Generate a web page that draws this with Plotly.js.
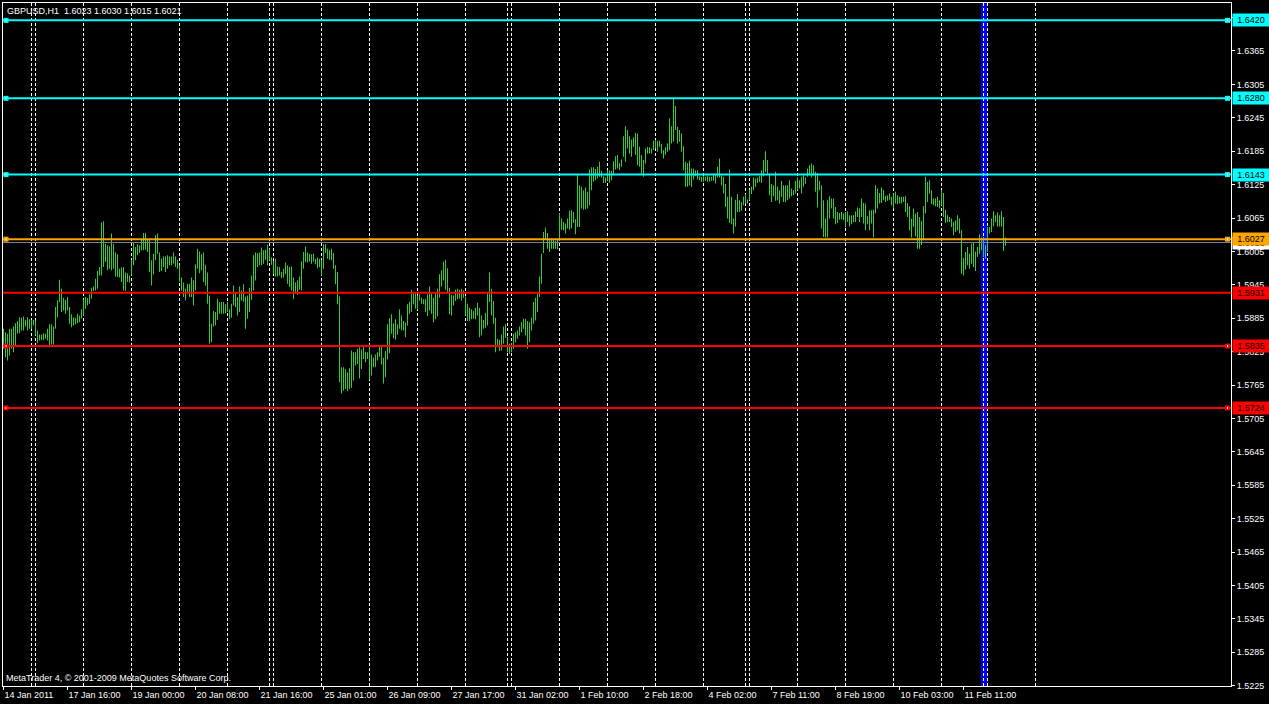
<!DOCTYPE html>
<html><head><meta charset="utf-8">
<script src="https://cdn.plot.ly/plotly-3.0.1.min.js"></script>
<style>html,body{margin:0;padding:0;background:#000;overflow:hidden}#chart{width:1269px;height:704px}</style>
</head><body><div id="chart"></div>
<script>
const symbolTitle = 'GBPUSD,H1\u00a0\u00a01.6023 1.6030 1.6015 1.6021';
const copyright = 'MetaTrader 4, \u00a9 2001-2009 MetaQuotes Software Corp.';

const barHigh = [
1.5866,1.5860,1.5857,1.5866,1.5866,1.5870,1.5876,1.5880,1.5887,1.5886,
1.5888,1.5882,1.5887,1.5883,1.5882,1.5882,1.5881,1.5863,1.5856,1.5856,
1.5858,1.5857,1.5866,1.5874,1.5874,1.5870,1.5905,1.5917,1.5954,1.5938,
1.5922,1.5918,1.5923,1.5905,1.5892,1.5887,1.5886,1.5893,1.5890,1.5901,
1.5919,1.5923,1.5921,1.5928,1.5940,1.5942,1.5956,1.5970,1.5977,1.6057,
1.6059,1.6019,1.6016,1.6014,1.6037,1.6018,1.6003,1.6000,1.5974,1.5976,
1.5977,1.5967,1.5966,1.5962,1.5989,1.6020,1.6013,1.6018,1.6016,1.6026,
1.6038,1.6038,1.6026,1.6027,1.5989,1.6001,1.6034,1.6037,1.6003,1.5992,
1.5996,1.5996,1.5998,1.5996,1.5996,1.6003,1.5996,1.5990,1.5980,1.5958,
1.5949,1.5938,1.5947,1.5947,1.5958,1.5953,1.5982,1.6010,1.6005,1.6000,
1.6003,1.5981,1.5967,1.5926,1.5875,1.5898,1.5896,1.5920,1.5914,1.5914,
1.5914,1.5910,1.5914,1.5901,1.5911,1.5944,1.5932,1.5923,1.5942,1.5935,
1.5946,1.5924,1.5926,1.5940,1.5962,1.5998,1.6003,1.6002,1.6003,1.6012,
1.6007,1.6008,1.6017,1.6010,1.5994,1.5988,1.5992,1.5978,1.5977,1.5968,
1.5974,1.5985,1.5980,1.5977,1.5978,1.5958,1.5949,1.5953,1.5960,1.5987,
1.6004,1.6014,1.6003,1.6001,1.6000,1.6001,1.5992,1.5994,1.5992,1.5989,
1.6018,1.6018,1.6010,1.6007,1.6010,1.6002,1.5980,1.5968,1.5924,1.5797,
1.5797,1.5794,1.5788,1.5795,1.5827,1.5824,1.5824,1.5830,1.5833,1.5829,
1.5835,1.5825,1.5824,1.5838,1.5820,1.5814,1.5820,1.5824,1.5836,1.5835,
1.5814,1.5826,1.5874,1.5885,1.5892,1.5876,1.5883,1.5874,1.5901,1.5890,
1.5880,1.5877,1.5910,1.5914,1.5936,1.5930,1.5932,1.5926,1.5928,1.5922,
1.5919,1.5919,1.5928,1.5942,1.5929,1.5922,1.5930,1.5938,1.5964,1.5971,
1.5987,1.5990,1.5975,1.5940,1.5927,1.5926,1.5936,1.5938,1.5936,1.5938,
1.5935,1.5924,1.5911,1.5904,1.5901,1.5898,1.5904,1.5913,1.5904,1.5890,
1.5882,1.5895,1.5930,1.5967,1.5938,1.5916,1.5886,1.5848,1.5846,1.5856,
1.5870,1.5874,1.5852,1.5839,1.5840,1.5857,1.5860,1.5863,1.5870,1.5878,
1.5884,1.5884,1.5880,1.5878,1.5886,1.5914,1.5922,1.5930,1.5960,1.6001,
1.6040,1.6048,1.6038,1.6026,1.6028,1.6026,1.6024,1.6028,1.6074,1.6064,
1.6058,1.6055,1.6064,1.6078,1.6079,1.6076,1.6063,1.6143,1.6124,1.6121,
1.6115,1.6120,1.6112,1.6152,1.6156,1.6156,1.6153,1.6157,1.6166,1.6150,
1.6140,1.6138,1.6151,1.6151,1.6150,1.6167,1.6176,1.6178,1.6164,1.6170,
1.6212,1.6230,1.6223,1.6212,1.6206,1.6210,1.6218,1.6217,1.6193,1.6178,
1.6169,1.6190,1.6193,1.6192,1.6190,1.6204,1.6205,1.6204,1.6204,1.6198,
1.6187,1.6192,1.6199,1.6244,1.6230,1.6280,1.6266,1.6229,1.6223,1.6217,
1.6194,1.6166,1.6164,1.6168,1.6154,1.6154,1.6151,1.6151,1.6140,1.6139,
1.6140,1.6139,1.6142,1.6139,1.6139,1.6145,1.6142,1.6157,1.6172,1.6142,
1.6139,1.6126,1.6103,1.6152,1.6103,1.6064,1.6098,1.6108,1.6097,1.6094,
1.6103,1.6108,1.6098,1.6116,1.6121,1.6138,1.6136,1.6138,1.6140,1.6151,
1.6169,1.6185,1.6169,1.6145,1.6126,1.6124,1.6148,1.6121,1.6115,1.6132,
1.6124,1.6124,1.6124,1.6133,1.6118,1.6115,1.6132,1.6138,1.6133,1.6139,
1.6142,1.6138,1.6154,1.6160,1.6163,1.6160,1.6148,1.6146,1.6132,1.6124,
1.6097,1.6064,1.6097,1.6104,1.6100,1.6100,1.6085,1.6076,1.6074,1.6076,
1.6073,1.6076,1.6077,1.6070,1.6070,1.6070,1.6077,1.6084,1.6082,1.6100,
1.6092,1.6091,1.6068,1.6079,1.6079,1.6080,1.6124,1.6118,1.6110,1.6120,
1.6115,1.6105,1.6106,1.6109,1.6103,1.6109,1.6112,1.6106,1.6103,1.6103,
1.6103,1.6104,1.6092,1.6086,1.6064,1.6082,1.6073,1.6076,1.6067,1.6060,
1.6086,1.6139,1.6130,1.6133,1.6115,1.6100,1.6100,1.6103,1.6097,1.6115,
1.6110,1.6080,1.6070,1.6067,1.6064,1.6058,1.6061,1.6070,1.6064,1.6043,
1.5993,1.6004,1.6013,1.6001,1.6019,1.6022,1.6005,1.6013,1.6036,1.6030,
1.6031,1.6016,1.6049,1.6049,1.6064,1.6077,1.6070,1.6075,1.6070,1.6077,
1.6067,1.6030
];

const barLow = [
1.5830,1.5815,1.5809,1.5818,1.5830,1.5824,1.5836,1.5857,1.5858,1.5863,
1.5863,1.5870,1.5863,1.5866,1.5866,1.5872,1.5854,1.5840,1.5845,1.5846,
1.5846,1.5848,1.5845,1.5833,1.5838,1.5838,1.5866,1.5887,1.5914,1.5896,
1.5899,1.5893,1.5899,1.5875,1.5869,1.5872,1.5874,1.5876,1.5878,1.5884,
1.5890,1.5902,1.5908,1.5911,1.5920,1.5934,1.5935,1.5938,1.5962,1.5962,
1.5977,1.5986,1.5971,1.5974,1.5971,1.5974,1.5960,1.5959,1.5958,1.5950,
1.5935,1.5934,1.5950,1.5949,1.5962,1.5980,1.5989,1.5998,1.6002,1.6007,
1.6007,1.6008,1.6004,1.5968,1.5944,1.5964,1.5989,1.6001,1.5968,1.5970,
1.5977,1.5968,1.5974,1.5980,1.5980,1.5983,1.5977,1.5974,1.5951,1.5935,
1.5923,1.5917,1.5929,1.5923,1.5923,1.5908,1.5935,1.5974,1.5966,1.5971,
1.5950,1.5944,1.5911,1.5839,1.5842,1.5870,1.5872,1.5882,1.5893,1.5893,
1.5893,1.5894,1.5896,1.5883,1.5886,1.5908,1.5905,1.5890,1.5896,1.5917,
1.5915,1.5866,1.5884,1.5896,1.5918,1.5935,1.5953,1.5977,1.5980,1.5980,
1.5983,1.5990,1.5980,1.5989,1.5981,1.5964,1.5960,1.5960,1.5962,1.5957,
1.5958,1.5964,1.5947,1.5941,1.5935,1.5919,1.5929,1.5927,1.5936,1.5935,
1.5974,1.5986,1.5985,1.5987,1.5983,1.5987,1.5982,1.5975,1.5977,1.5962,
1.5974,1.6002,1.5992,1.5990,1.5989,1.5974,1.5946,1.5910,1.5770,1.5750,
1.5755,1.5758,1.5754,1.5758,1.5760,1.5773,1.5800,1.5803,1.5777,1.5794,
1.5812,1.5806,1.5812,1.5775,1.5782,1.5797,1.5797,1.5809,1.5816,1.5802,
1.5768,1.5779,1.5811,1.5822,1.5857,1.5849,1.5847,1.5856,1.5866,1.5864,
1.5863,1.5851,1.5872,1.5893,1.5896,1.5910,1.5902,1.5900,1.5917,1.5911,
1.5910,1.5896,1.5889,1.5899,1.5893,1.5878,1.5883,1.5888,1.5922,1.5942,
1.5953,1.5936,1.5930,1.5892,1.5890,1.5908,1.5916,1.5919,1.5920,1.5917,
1.5922,1.5890,1.5880,1.5880,1.5883,1.5884,1.5883,1.5890,1.5851,1.5854,
1.5866,1.5868,1.5872,1.5914,1.5890,1.5875,1.5824,1.5833,1.5826,1.5827,
1.5839,1.5850,1.5824,1.5821,1.5824,1.5830,1.5842,1.5848,1.5854,1.5860,
1.5866,1.5854,1.5830,1.5842,1.5863,1.5875,1.5881,1.5896,1.5923,1.5947,
1.6002,1.6026,1.6010,1.6004,1.6010,1.6010,1.6010,1.6009,1.6024,1.6044,
1.6043,1.6037,1.6046,1.6044,1.6046,1.6056,1.6036,1.6049,1.6049,1.6082,
1.6080,1.6081,1.6082,1.6088,1.6115,1.6130,1.6133,1.6136,1.6139,1.6138,
1.6128,1.6128,1.6132,1.6128,1.6133,1.6142,1.6152,1.6154,1.6151,1.6157,
1.6175,1.6166,1.6190,1.6181,1.6175,1.6193,1.6178,1.6160,1.6157,1.6145,
1.6139,1.6163,1.6181,1.6181,1.6181,1.6187,1.6190,1.6184,1.6193,1.6181,
1.6172,1.6178,1.6184,1.6187,1.6199,1.6202,1.6223,1.6199,1.6202,1.6184,
1.6151,1.6121,1.6121,1.6124,1.6121,1.6134,1.6140,1.6134,1.6133,1.6130,
1.6130,1.6132,1.6130,1.6130,1.6132,1.6132,1.6127,1.6138,1.6138,1.6124,
1.6109,1.6085,1.6064,1.6056,1.6054,1.6037,1.6050,1.6076,1.6076,1.6078,
1.6088,1.6091,1.6091,1.6097,1.6108,1.6115,1.6121,1.6128,1.6130,1.6128,
1.6140,1.6148,1.6145,1.6106,1.6094,1.6104,1.6096,1.6097,1.6091,1.6103,
1.6094,1.6094,1.6097,1.6100,1.6104,1.6106,1.6109,1.6115,1.6118,1.6109,
1.6121,1.6126,1.6139,1.6142,1.6138,1.6142,1.6112,1.6084,1.6115,1.6046,
1.6031,1.6030,1.6030,1.6064,1.6082,1.6064,1.6054,1.6056,1.6062,1.6063,
1.6061,1.6048,1.6058,1.6050,1.6054,1.6058,1.6058,1.6067,1.6058,1.6067,
1.6055,1.6043,1.6054,1.6043,1.6055,1.6030,1.6073,1.6082,1.6091,1.6092,
1.6097,1.6094,1.6096,1.6098,1.6088,1.6082,1.6091,1.6090,1.6091,1.6091,
1.6094,1.6076,1.6067,1.6043,1.6030,1.6049,1.6032,1.6010,1.6010,1.6016,
1.6025,1.6073,1.6094,1.6109,1.6090,1.6088,1.6086,1.6085,1.6082,1.6088,
1.6067,1.6056,1.6058,1.6058,1.6049,1.6034,1.6040,1.6043,1.6037,1.5965,
1.5962,1.5972,1.5980,1.5974,1.5983,1.5977,1.5970,1.5995,1.6001,1.6007,
1.5995,1.5992,1.6004,1.6037,1.6040,1.6050,1.6058,1.6050,1.6050,1.6050,
1.6006,1.6015
];

// time axis: bar numbers of the labelled bars and their labels
const timeLabelBars = [1,33,65,97,129,161,193,225,257,289,321,353,385,417,449,481];
const timeLabels = ['14 Jan 2011','17 Jan 16:00','19 Jan 00:00','20 Jan 08:00','21 Jan 16:00',
  '25 Jan 01:00','26 Jan 09:00','27 Jan 17:00','31 Jan 02:00','1 Feb 10:00','2 Feb 18:00',
  '4 Feb 02:00','7 Feb 11:00','8 Feb 19:00','10 Feb 03:00','11 Feb 11:00'];
// dashed grid / period separators (bar numbers)
const gridBars = [15,17,41,65,89,113,134,136,160,184,208,232,253,255,279,303,327,351,372,374,398,422,446,470,491,493,517];
const priceTickLabels = ['1.5225','1.5285','1.5345','1.5405','1.5465','1.5525','1.5585','1.5645',
  '1.5705','1.5765','1.5825','1.5885','1.5945','1.6005','1.6065','1.6125','1.6185','1.6245',
  '1.6305','1.6365','1.6425'];
// horizontal level lines
const levelPrices = [1.6420, 1.6280, 1.6143, 1.6027, 1.5931, 1.5835, 1.5724];
const levelColors = ['#00ffff','#00ffff','#00ffff','#ffa500','#ff0000','#ff0000','#ff0000'];
const levelEndMarks = [true, true, true, true, false, true, true];
const bidPrice = 1.6021;
const verticalLineBar = 491.25;

const FONT = 'Liberation Sans, Arial, sans-serif';
const barIndex = barHigh.map((_, i) => i + 1);
const barSpan = barHigh.map((h, i) => +(h - barLow[i]).toFixed(5));

const shapes = [];
shapes.push({type:'rect', xref:'x', yref:'paper', xsizemode:'pixel', xanchor:verticalLineBar,
  x0:-3, x1:3, y0:0, y1:1, fillcolor:'#0000ff', line:{width:0}, layer:'below'});
gridBars.forEach(g => shapes.push({type:'line', xref:'x', yref:'paper', x0:g, x1:g, y0:0, y1:1,
  line:{color:'#ffffff', width:1, dash:'3px,2px'}, layer:'below'}));
shapes.push({type:'line', xref:'paper', yref:'y', x0:0, x1:1, y0:bidPrice, y1:bidPrice,
  line:{color:'#778899', width:1}});
levelPrices.forEach((p, i) => {
  shapes.push({type:'line', xref:'paper', yref:'y', x0:0, x1:1, y0:p, y1:p,
    line:{color:levelColors[i], width:2}});
  if (levelEndMarks[i]) {
    [[0, 0.5, 5.5], [1, -6, -1]].forEach(([anc, a, b]) => {
      shapes.push({type:'rect', xref:'paper', yref:'y', xsizemode:'pixel', ysizemode:'pixel',
        xanchor:anc, yanchor:p, x0:a, x1:b, y0:-2.5, y1:2.5, fillcolor:levelColors[i], line:{width:0}});
      shapes.push({type:'rect', xref:'paper', yref:'y', xsizemode:'pixel', ysizemode:'pixel',
        xanchor:anc, yanchor:p, x0:a + 2, x1:b - 2, y0:-1, y1:1, fillcolor:'#ffffff', line:{width:0}});
    });
  }
});

const annotations = [];
function priceBox(p, color) {
  annotations.push({xref:'paper', x:1, xanchor:'left', xshift:1, yref:'y', y:p, yanchor:'middle',
    text:p.toFixed(4), showarrow:false, bgcolor:color, borderpad:1, width:34, height:10,
    font:{family:FONT, size:9, color:'#000000'}});
}
priceBox(bidPrice, '#ffffff');
levelPrices.forEach((p, i) => priceBox(p, levelColors[i]));
annotations.push({xref:'paper', yref:'paper', x:0, y:1, xanchor:'left', yanchor:'middle',
  xshift:2, yshift:-7.5, text:symbolTitle, showarrow:false, font:{family:FONT, size:9, color:'#ffffff'}});
annotations.push({xref:'paper', yref:'paper', x:0, y:0, xanchor:'left', yanchor:'middle',
  xshift:1, yshift:8.5, text:copyright, showarrow:false, font:{family:FONT, size:9, color:'#ffffff'}});

const trace = {
  type:'bar', x:barIndex, base:barLow, y:barSpan, width:0.5,
  marker:{color:'#32cd32', line:{width:0}}, hoverinfo:'skip'
};

const layout = {
  width:1269, height:704,
  margin:{l:3, r:38, t:3, b:18, pad:0},
  paper_bgcolor:'#000000', plot_bgcolor:'rgba(0,0,0,0)',
  showlegend:false,
  font:{family:FONT, size:9, color:'#ffffff'},
  xaxis:{range:[0.75, 614.75], showgrid:false, zeroline:false, showline:true, mirror:true,
    linecolor:'#ffffff', linewidth:1, tickmode:'array', tickvals:timeLabelBars, ticktext:timeLabels,
    ticks:'outside', ticklen:3, tickcolor:'#ffffff', tickwidth:1, ticklabelposition:'outside right',
    tickfont:{family:FONT, size:9, color:'#ffffff'}, fixedrange:true, automargin:false},
  yaxis:{range:[1.52245, 1.64512], side:'right', showgrid:false, zeroline:false, showline:true, mirror:true,
    linecolor:'#ffffff', linewidth:1, tickmode:'array', tickvals:priceTickLabels.map(Number),
    ticktext:priceTickLabels, ticks:'outside', ticklen:3, tickcolor:'#ffffff', tickwidth:1,
    tickfont:{family:FONT, size:9, color:'#ffffff'}, fixedrange:true, automargin:false},
  shapes:shapes, annotations:annotations
};

Plotly.newPlot('chart', [trace], layout, {staticPlot:true, displayModeBar:false});
</script></body></html>
